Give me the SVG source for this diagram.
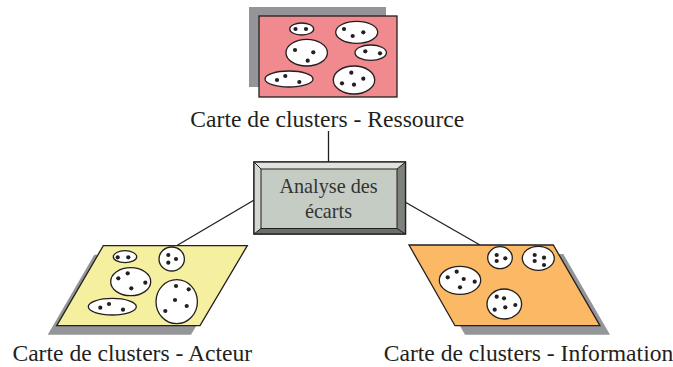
<svg xmlns="http://www.w3.org/2000/svg" width="673" height="367" viewBox="0 0 673 367">
<style>
.lbl{font-family:"Liberation Serif","Times New Roman",serif;font-size:23.6px;fill:#231f20;text-anchor:middle}
.btxt{font-family:"Liberation Serif","Times New Roman",serif;font-size:20.2px;fill:#333;text-anchor:middle}
.cl{fill:#fff;stroke:#231f20;stroke-width:1.3}
.dot{fill:#231f20}
.sh{fill:#939598}
.edge{stroke:#231f20;stroke-width:1.3;fill:none}
</style>
<defs>
<circle id="d" r="2.1" class="dot"/>
</defs>
<g id="connectors">
<line class="edge" x1="328.5" y1="131" x2="328.5" y2="162"/>
<line class="edge" x1="255" y1="199.5" x2="176.5" y2="245.7"/>
<line class="edge" x1="401.5" y1="200" x2="480" y2="245"/>
</g>
<g id="ressource">
<rect class="sh" x="249" y="7" width="137" height="80"/>
<rect x="259" y="16" width="138" height="81" fill="#f08a8e" stroke="#231f20" stroke-width="1.3"/>
<ellipse class="cl" cx="301.7" cy="29" rx="12" ry="6"/>
<use href="#d" x="295.5" y="29"/><use href="#d" x="306" y="29"/>
<ellipse class="cl" cx="356.7" cy="32.3" rx="21" ry="11"/>
<use href="#d" x="344" y="29"/><use href="#d" x="352.7" y="36"/><use href="#d" x="363.3" y="32.3"/>
<ellipse class="cl" cx="306.7" cy="52.7" rx="20.7" ry="13.3"/>
<use href="#d" x="295" y="50"/><use href="#d" x="313.3" y="52.3"/><use href="#d" x="307.7" y="60.7"/>
<ellipse class="cl" cx="370.7" cy="52.7" rx="15.7" ry="7.7"/>
<use href="#d" x="365.3" y="51.3"/><use href="#d" x="380" y="53.3"/>
<ellipse class="cl" cx="289" cy="79" rx="24" ry="8"/>
<use href="#d" x="277" y="80"/><use href="#d" x="285.3" y="76"/><use href="#d" x="299.3" y="82"/>
<ellipse class="cl" cx="354" cy="80" rx="20.7" ry="14"/>
<use href="#d" x="351.3" y="72.7"/><use href="#d" x="363.3" y="78.7"/><use href="#d" x="342" y="83.3"/><use href="#d" x="354" y="84.7"/>
<text class="lbl" x="327.3" y="126.5">Carte de clusters - Ressource</text>
</g>
<g id="analyse">
<rect x="254" y="162" width="151.5" height="72" fill="#c5ccc4" stroke="#231f20" stroke-width="1.3"/>
<polygon points="254,162 405.5,162 397,169 261,169" fill="#dfe3de"/>
<polygon points="254,162 261,169 261,228.5 254,234" fill="#d3d8d2"/>
<polygon points="405.5,162 405.5,234 397,228.5 397,169" fill="#7c827b"/>
<polygon points="254,234 405.5,234 397,228.5 261,228.5" fill="#6a7069"/>
<rect x="261" y="169" width="136" height="59.5" fill="#c5ccc4" stroke="#231f20" stroke-width="1"/>
<line x1="254" y1="162" x2="261" y2="169" stroke="#231f20" stroke-width="1"/>
<line x1="405.5" y1="162" x2="397" y2="169" stroke="#231f20" stroke-width="1"/>
<line x1="254" y1="234" x2="261" y2="228.5" stroke="#231f20" stroke-width="1"/>
<line x1="405.5" y1="234" x2="397" y2="228.5" stroke="#231f20" stroke-width="1"/>
<rect x="254" y="162" width="151.5" height="72" fill="none" stroke="#231f20" stroke-width="1.3"/>
<text class="btxt" x="328.5" y="193">Analyse des</text>
<text class="btxt" x="328.5" y="218">écarts</text>
</g>
<g id="acteur">
<polygon class="sh" points="94.3,254.7 238.3,254.7 191,334.7 47.7,334.7"/>
<polygon points="103.3,245.7 247.3,245.7 200,325.7 56.7,325.7" fill="#f5f0a0" stroke="#231f20" stroke-width="1.3"/>
<ellipse class="cl" cx="125" cy="256.7" rx="11.7" ry="6"/>
<use href="#d" x="117.7" y="257.3"/><use href="#d" x="128.3" y="257.3"/>
<ellipse class="cl" cx="171.7" cy="259" rx="12.7" ry="12"/>
<use href="#d" x="168.3" y="255"/><use href="#d" x="176" y="259"/><use href="#d" x="168.3" y="262.7"/>
<ellipse class="cl" cx="130.7" cy="281.7" rx="20" ry="14"/>
<use href="#d" x="118.3" y="278.3"/><use href="#d" x="127.7" y="273.3"/><use href="#d" x="145.3" y="282.7"/><use href="#d" x="131.3" y="288.3"/>
<ellipse class="cl" cx="176.7" cy="301.7" rx="20.7" ry="22"/>
<use href="#d" x="176" y="286"/><use href="#d" x="188.7" y="289.3"/><use href="#d" x="175" y="300"/><use href="#d" x="186.7" y="306"/><use href="#d" x="165.3" y="311"/>
<ellipse class="cl" cx="112.3" cy="306.7" rx="24" ry="8.3"/>
<use href="#d" x="100.3" y="307.7"/><use href="#d" x="109" y="304"/><use href="#d" x="123" y="309.7"/>
<text class="lbl" x="132.3" y="361">Carte de clusters - Acteur</text>
</g>
<g id="information">
<polygon class="sh" points="419,254 563.3,254 610,334.7 465,334.7"/>
<polygon points="409,245 553.3,245 600,325.7 455,325.7" fill="#fbb966" stroke="#231f20" stroke-width="1.3"/>
<ellipse class="cl" cx="500" cy="257.7" rx="12.3" ry="11"/>
<use href="#d" x="496.7" y="255"/><use href="#d" x="496.7" y="261"/><use href="#d" x="505.3" y="258.3"/>
<ellipse class="cl" cx="538.3" cy="258.3" rx="16" ry="12"/>
<use href="#d" x="534.7" y="255"/><use href="#d" x="534.7" y="261"/><use href="#d" x="544" y="257.7"/><use href="#d" x="544" y="265"/>
<ellipse class="cl" cx="460" cy="280.3" rx="20.7" ry="14"/>
<use href="#d" x="447.7" y="277.3"/><use href="#d" x="456.7" y="271.7"/><use href="#d" x="463.7" y="279"/><use href="#d" x="474.7" y="281.7"/><use href="#d" x="460" y="287.3"/>
<ellipse class="cl" cx="504.3" cy="304" rx="17.3" ry="15"/>
<use href="#d" x="496.7" y="296.7"/><use href="#d" x="504" y="298.3"/><use href="#d" x="515.3" y="305"/><use href="#d" x="505.3" y="307.3"/><use href="#d" x="494.7" y="309.7"/>
<text class="lbl" x="528.5" y="361">Carte de clusters - Information</text>
</g>
</svg>
